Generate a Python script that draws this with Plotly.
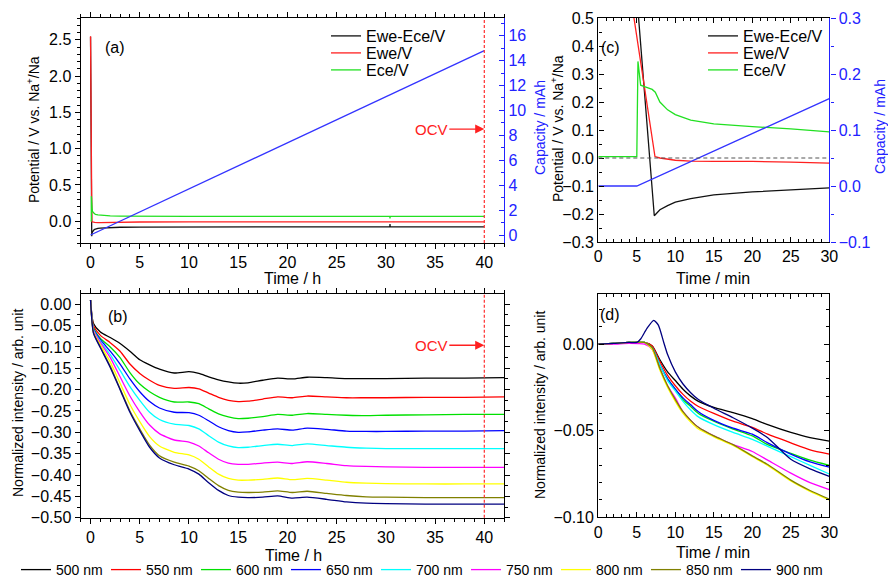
import plotly.graph_objects as go

# ---------------- data ----------------
# (c): first 30 min of the electrochemical record (time in min)
ewe_c_t = [0, 4.0, 7.36, 8, 10, 12, 15, 20, 25, 30]
ewe_c = [2.55, 0.615, 0.005, 0.0, -0.008, -0.011, -0.012, -0.012, -0.015, -0.018]
cell_c_t = [0, 5.0, 7.27, 8, 9, 10, 12, 15, 20, 25, 30]
cell_c = [2.54, 0.58, -0.206, -0.185, -0.170, -0.158, -0.145, -0.132, -0.121, -0.113, -0.107]
ece_c_t = [0, 5.0, 5.15, 5.5, 6, 7, 7.4, 8, 9, 10, 12, 15, 20, 25, 30]
ece_c = [0.005, 0.005, 0.345, 0.26, 0.255, 0.245, 0.235, 0.2, 0.172, 0.155, 0.135, 0.122, 0.112, 0.104, 0.093]
cap_c_t = [0, 5, 30]
cap_c = [0.0, 0.0, 0.156]

# (a): long-term record (time in h)
ec_h_t = [0.75, 1, 1.5, 2, 3, 5, 10, 20, 30.4, 30.42, 30.44, 40]
cell_h = [-0.100, -0.095, -0.090, -0.086, -0.083, -0.080, -0.078, -0.077, -0.077, -0.040, -0.077, -0.078]
ewe_h = [-0.019, -0.018, -0.016, -0.014, -0.012, -0.011, -0.010, -0.010, -0.010, -0.010, -0.010, -0.010]
ece_h = [0.088, 0.084, 0.078, 0.074, 0.071, 0.069, 0.067, 0.066, 0.066, 0.040, 0.066, 0.066]
cap_h_t = [0, 40]
cap_h = [0.0, 14.8]

# (b): normalized intensity vs time (h)
wl_labels = ["500 nm", "550 nm", "600 nm", "650 nm", "700 nm", "750 nm", "800 nm", "850 nm", "900 nm"]
t_b = [0, 0.3, 1, 2, 3, 4, 5, 6, 7, 8.5, 10, 11, 12, 13, 14, 15, 16, 17.5, 19, 20.5, 22, 24, 26, 28, 30, 34, 38, 42]
b_500 = [0.01, -0.045, -0.065, -0.078, -0.092, -0.11, -0.13, -0.142, -0.152, -0.161, -0.158, -0.162, -0.17, -0.177,
         -0.182, -0.185, -0.184, -0.178, -0.173, -0.175, -0.171, -0.172, -0.174, -0.174, -0.174, -0.173, -0.173, -0.172]
b_550 = [0.01, -0.05, -0.073, -0.09, -0.11, -0.14, -0.162, -0.178, -0.19, -0.197, -0.195, -0.198, -0.208, -0.218,
         -0.225, -0.228, -0.227, -0.222, -0.217, -0.219, -0.215, -0.217, -0.219, -0.219, -0.219, -0.218, -0.218, -0.217]
b_600 = [0.01, -0.055, -0.08, -0.1, -0.125, -0.16, -0.187, -0.205, -0.218, -0.229, -0.229, -0.233, -0.245, -0.257,
         -0.264, -0.268, -0.267, -0.263, -0.258, -0.26, -0.256, -0.258, -0.26, -0.261, -0.26, -0.259, -0.258, -0.258]
b_650 = [0.01, -0.058, -0.083, -0.11, -0.14, -0.175, -0.205, -0.228, -0.243, -0.253, -0.254, -0.26, -0.273, -0.287,
         -0.296, -0.3, -0.299, -0.295, -0.292, -0.295, -0.29, -0.293, -0.297, -0.298, -0.298, -0.297, -0.297, -0.296]
b_700 = [0.01, -0.06, -0.087, -0.118, -0.155, -0.193, -0.225, -0.253, -0.27, -0.281, -0.284, -0.292, -0.308, -0.323,
         -0.332, -0.336, -0.335, -0.331, -0.328, -0.331, -0.327, -0.331, -0.335, -0.337, -0.338, -0.338, -0.338, -0.338]
b_750 = [0.01, -0.062, -0.09, -0.125, -0.17, -0.215, -0.252, -0.283, -0.303, -0.318, -0.323, -0.332, -0.348, -0.363,
         -0.372, -0.375, -0.375, -0.372, -0.37, -0.373, -0.369, -0.373, -0.378, -0.38, -0.381, -0.382, -0.382, -0.382]
b_800 = [0.01, -0.065, -0.095, -0.135, -0.185, -0.235, -0.275, -0.31, -0.332, -0.347, -0.353, -0.363, -0.381, -0.398,
         -0.408, -0.412, -0.412, -0.41, -0.407, -0.411, -0.408, -0.412, -0.417, -0.419, -0.42, -0.421, -0.421, -0.421]
b_850 = [0.01, -0.067, -0.1, -0.145, -0.198, -0.25, -0.292, -0.33, -0.355, -0.37, -0.379, -0.39, -0.408, -0.425,
         -0.436, -0.44, -0.441, -0.44, -0.437, -0.441, -0.438, -0.443, -0.448, -0.451, -0.452, -0.453, -0.453, -0.453]
b_900 = [0.01, -0.068, -0.102, -0.148, -0.2, -0.253, -0.296, -0.335, -0.36, -0.376, -0.386, -0.398, -0.418, -0.436,
         -0.448, -0.452, -0.453, -0.452, -0.449, -0.454, -0.452, -0.457, -0.463, -0.466, -0.467, -0.468, -0.468, -0.468]

# (d): normalized intensity, first 30 min
t_d = [0, 2, 4, 6, 7, 8, 9, 10, 11, 12, 13, 15, 17.5, 20, 22, 25, 27.5, 30]
d_500 = [0.0, 0.0005, 0.001, 0.001, -0.001, -0.009, -0.016, -0.021, -0.026, -0.03, -0.033, -0.0365, -0.0395, -0.043, -0.0465, -0.051, -0.054, -0.056]
d_550 = [0.0, 0.0005, 0.001, 0.001, -0.001, -0.01, -0.018, -0.024, -0.029, -0.033, -0.036, -0.040, -0.0445, -0.048, -0.052, -0.057, -0.061, -0.0635]
d_600 = [0.0, 0.0005, 0.001, 0.001, -0.002, -0.012, -0.02, -0.026, -0.032, -0.036, -0.04, -0.0445, -0.049, -0.053, -0.058, -0.063, -0.067, -0.070]
d_650 = [0.0, 0.0005, 0.001, 0.001, -0.002, -0.012, -0.02, -0.026, -0.031, -0.035, -0.039, -0.044, -0.0485, -0.052, -0.057, -0.0635, -0.068, -0.071]
d_700 = [0.0, 0.0005, 0.001, 0.001, -0.002, -0.012, -0.021, -0.027, -0.033, -0.038, -0.042, -0.0465, -0.051, -0.055, -0.059, -0.065, -0.07, -0.075]
d_750 = [0.0, 0.0, 0.0005, 0.0, -0.003, -0.014, -0.024, -0.031, -0.039, -0.044, -0.048, -0.053, -0.058, -0.062, -0.067, -0.0745, -0.08, -0.084]
d_800 = [0.0, 0.0005, 0.001, 0.001, -0.003, -0.015, -0.025, -0.033, -0.04, -0.045, -0.049, -0.0535, -0.0585, -0.065, -0.07, -0.079, -0.085, -0.09]
d_850 = [0.0, 0.0005, 0.001, 0.001, -0.002, -0.014, -0.024, -0.032, -0.039, -0.044, -0.048, -0.053, -0.058, -0.0645, -0.0695, -0.0785, -0.0845, -0.0895]
t_d_900 = [0, 2, 4, 5, 5.5, 6.3, 7.2, 7.8, 8.5, 9, 10, 11, 12, 13, 15, 17.5, 20, 22, 25, 27.5, 30]
d_900 = [0.0, 0.0005, 0.001, 0.001, 0.003, 0.009, 0.0138, 0.011, 0.001, -0.006, -0.016, -0.023, -0.028, -0.032, -0.037,
         -0.0425, -0.0485, -0.054, -0.0665, -0.072, -0.0763]

b_series = [b_500, b_550, b_600, b_650, b_700, b_750, b_800, b_850, b_900]
d_series = [d_500, d_550, d_600, d_650, d_700, d_750, d_800, d_850, d_900]
d_times = [t_d] * 8 + [t_d_900]

# ---------------- styling ----------------
FONT = "Liberation Sans, Arial, Helvetica, sans-serif"
W, H = 888, 577
wl_colors = ["#000000", "#ff0000", "#00e000", "#0000ff", "#00ffff", "#ff00ff", "#ffff00", "#808000", "#000080"]
C_BLACK, C_RED, C_GREEN, C_BLUE = "#111111", "#ff2020", "#22e022", "#3333ff"
AX_BLUE = "#2222ff"


def fx(p):
    return p / W


def fy(p):
    return 1 - p / H


A_X = [fx(80.7), fx(504)]
A_Y = [fy(243), fy(18)]
C_X = [fx(598.3), fx(829.3)]
C_Y = [fy(242), fy(18)]
B_X = [fx(80.7), fx(504)]
B_Y = [fy(517.7), fy(294)]
D_X = [fx(598.3), fx(829.3)]
D_Y = [fy(517.3), fy(294)]

fig = go.Figure()
LW = 1.3

# (a)
t_a_cell = [t / 60 for t in cell_c_t] + ec_h_t
t_a_ewe = [t / 60 for t in ewe_c_t] + ec_h_t
t_a_ece = [t / 60 for t in ece_c_t] + ec_h_t
fig.add_trace(go.Scatter(x=t_a_cell, y=cell_c + cell_h, mode="lines", line=dict(color=C_BLACK, width=LW),
                         name="Ewe-Ece/V", xaxis="x", yaxis="y", legend="legend"))
fig.add_trace(go.Scatter(x=t_a_ewe, y=ewe_c + ewe_h, mode="lines", line=dict(color=C_RED, width=LW),
                         name="Ewe/V", xaxis="x", yaxis="y", legend="legend2"))
fig.add_trace(go.Scatter(x=t_a_ece, y=ece_c + ece_h, mode="lines", line=dict(color=C_GREEN, width=LW),
                         name="Ece/V", xaxis="x", yaxis="y", legend="legend3"))
fig.add_trace(go.Scatter(x=cap_h_t, y=cap_h, mode="lines", line=dict(color=C_BLUE, width=LW),
                         showlegend=False, xaxis="x", yaxis="y2"))

# (c)
fig.add_trace(go.Scatter(x=cell_c_t, y=cell_c, mode="lines", line=dict(color=C_BLACK, width=LW),
                         name="Ewe-Ece/V", xaxis="x2", yaxis="y3", legend="legend4"))
fig.add_trace(go.Scatter(x=ewe_c_t, y=ewe_c, mode="lines", line=dict(color=C_RED, width=LW),
                         name="Ewe/V", xaxis="x2", yaxis="y3", legend="legend5"))
fig.add_trace(go.Scatter(x=ece_c_t, y=ece_c, mode="lines", line=dict(color=C_GREEN, width=LW),
                         name="Ece/V", xaxis="x2", yaxis="y3", legend="legend6"))
fig.add_trace(go.Scatter(x=cap_c_t, y=cap_c, mode="lines", line=dict(color=C_BLUE, width=LW),
                         showlegend=False, xaxis="x2", yaxis="y4"))

# (b)
for lab, col, ys in zip(wl_labels, wl_colors, b_series):
    fig.add_trace(go.Scatter(x=t_b, y=ys, mode="lines", line=dict(color=col, width=LW, shape="spline", smoothing=0.6),
                             name=lab, xaxis="x3", yaxis="y5", legend="legend7"))
# (d)
for lab, col, ts, ys in zip(wl_labels, wl_colors, d_times, d_series):
    fig.add_trace(go.Scatter(x=ts, y=ys, mode="lines", line=dict(color=col, width=LW, shape="spline", smoothing=0.6),
                             name=lab, showlegend=False, xaxis="x4", yaxis="y6"))


def ax(domain, rng, dtick, mdtick, ticks="outside", mirror="ticks", color="black", fmt=None, **kw):
    d = dict(domain=domain, range=rng, tick0=0, dtick=dtick, ticks=ticks, ticklen=5, tickwidth=1.2,
             tickcolor=color, showline=True, linecolor=color, linewidth=1.4, mirror=mirror,
             showgrid=False, zeroline=False, tickfont=dict(family=FONT, size=16, color=color),
             minor=dict(dtick=mdtick, tick0=0, ticks=ticks, ticklen=3, tickwidth=1, tickcolor=color))
    if fmt:
        d["tickformat"] = fmt
    d.update(kw)
    return d


fig.update_layout(
    width=W, height=H, margin=dict(l=0, r=0, t=0, b=0, autoexpand=False),
    paper_bgcolor="white", plot_bgcolor="white",
    font=dict(family=FONT, size=14, color="black"),
    xaxis=ax(A_X, [-1, 42], 5, 1, anchor="y"),
    yaxis=ax(A_Y, [-0.3, 2.8], 0.5, 0.1, mirror=False, fmt=".1f", anchor="x"),
    yaxis2=ax(A_Y, [-0.64, 17.42], 2, 1, ticks="inside", mirror=False, color=AX_BLUE,
              overlaying="y", side="right", anchor="x"),
    xaxis2=ax(C_X, [0, 30], 5, 1, ticks="inside", anchor="y3"),
    yaxis3=ax(C_Y, [-0.3, 0.5], 0.1, 0.05, ticks="inside", mirror=False, fmt=".1f", anchor="x2"),
    yaxis4=ax(C_Y, [-0.1, 0.3], 0.1, 0.05, ticks="outside", mirror=False, color=AX_BLUE, fmt=".1f",
              overlaying="y3", side="right", anchor="x2"),
    xaxis3=ax(B_X, [-1, 42], 5, 1, anchor="y5"),
    yaxis5=ax(B_Y, [-0.5, 0.024], 0.05, 0.025, fmt=".2f", anchor="x3"),
    xaxis4=ax(D_X, [0, 30], 5, 1, ticks="inside", anchor="y6"),
    yaxis6=ax(D_Y, [-0.1, 0.029], 0.05, 0.01, ticks="inside", fmt=".2f", anchor="x4"),
)

# legends for (a) and (c): one entry per legend so rows sit at the reference spacing
leg_font = dict(family=FONT, size=16, color="black")
rows = [36, 53, 70]
for i, r in enumerate(rows):
    key = "legend" if i == 0 else f"legend{i + 1}"
    fig.update_layout({key: dict(x=fx(326), y=fy(r), xanchor="left", yanchor="middle", font=leg_font,
                                 bgcolor="rgba(0,0,0,0)", borderwidth=0, itemwidth=30)})
    fig.update_layout({f"legend{i + 4}": dict(x=fx(703), y=fy(r), xanchor="left", yanchor="middle", font=leg_font,
                                              bgcolor="rgba(0,0,0,0)", borderwidth=0, itemwidth=30)})
fig.update_layout(legend7=dict(orientation="h", x=fx(16), y=fy(570), xanchor="left", yanchor="middle",
                               font=dict(family=FONT, size=14, color="black"), entrywidth=45,
                               bgcolor="rgba(0,0,0,0)", itemwidth=30))

# reference lines
fig.add_shape(type="line", xref="x", yref="y domain", x0=40, x1=40, y0=0, y1=1,
              line=dict(color="#ff3030", width=1.2, dash="3px,2px"))
fig.add_shape(type="line", xref="x3", yref="y5 domain", x0=40, x1=40, y0=0, y1=1,
              line=dict(color="#ff3030", width=1.2, dash="3px,2px"))
fig.add_shape(type="line", xref="x2 domain", yref="y3", x0=0, x1=1, y0=0, y1=0,
              line=dict(color="#555555", width=1.2, dash="4px,3px"))

annots = []
# OCV markers
for xr, yr, yv in [("x", "y", 1.27), ("x3", "y5", -0.096)]:
    annots.append(dict(x=40, y=yv, xref=xr, yref=yr, text="OCV", showarrow=True, ax=-53, ay=0,
                       arrowhead=2, arrowsize=1.4, arrowwidth=1.3, arrowcolor="#ff2020",
                       font=dict(family=FONT, size=15, color="#ff2020")))
# panel labels
for txt, px_, py_ in [("(a)", 103, 37), ("(b)", 106, 316), ("(c)", 622, 37), ("(d)", 622, 315)]:
    annots.append(dict(x=fx(px_), y=fy(py_), xref="paper", yref="paper", text=txt, showarrow=False,
                       font=dict(family=FONT, size=16, color="black")))
# axis titles
titles = [
    ("Time / h", 292, 279, 0, 16, "black"),
    ("Time / min", 713, 279, 0, 16, "black"),
    ("Time / h", 293, 555, 0, 16, "black"),
    ("Time / min", 713, 552, 0, 16, "black"),
    ("Potential / V vs. Na<sup>+</sup>/Na", 33, 130, -90, 14, "black"),
    ("Potential / V vs. Na<sup>+</sup>/Na", 557, 129, -90, 14, "black"),
    ("Capacity / mAh", 540, 128, -90, 14, AX_BLUE),
    ("Capacity / mAh", 880, 127, -90, 14, AX_BLUE),
    ("Normalized intensity / arb. unit", 18, 403, -90, 14, "black"),
    ("Normalized intensity / arb. unit", 540, 405, -90, 14, "black"),
]
for txt, px_, py_, ang, sz, col in titles:
    annots.append(dict(x=fx(px_), y=fy(py_), xref="paper", yref="paper", text=txt, showarrow=False,
                       textangle=ang, xanchor="center", yanchor="middle",
                       font=dict(family=FONT, size=sz, color=col)))
fig.update_layout(annotations=annots)

fig.write_html("out.html", config={"displayModeBar": False},
               post_script="document.body.style.margin='0';document.body.style.overflow='hidden';")
